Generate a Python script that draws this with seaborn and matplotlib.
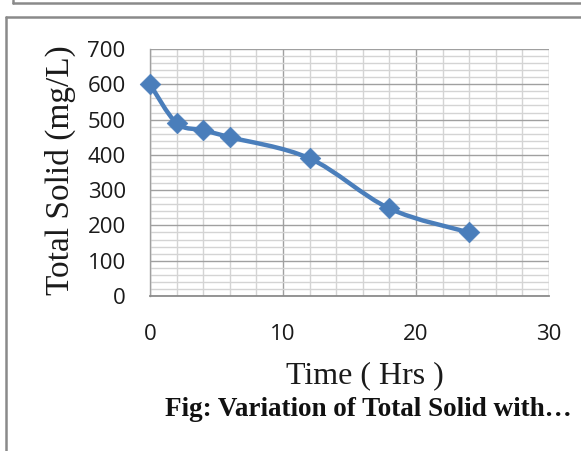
import numpy as np
import pandas as pd
import matplotlib
matplotlib.use("Agg")
import matplotlib.pyplot as plt
from matplotlib.path import Path
from matplotlib.patches import PathPatch
from matplotlib.lines import Line2D
from matplotlib.ticker import MultipleLocator
import seaborn as sns

# Sampling time (hours) and total solid concentration (mg/L)
time_hrs = [0, 2, 4, 6, 12, 18, 24]
total_solid = [600, 490, 470, 450, 390, 248, 180]

x_ticks = [0, 10, 20, 30]
y_ticks = [0, 100, 200, 300, 400, 500, 600, 700]

x_label = "Time ( Hrs )"
y_label = "Total Solid (mg/L)"
caption = "Fig: Variation of Total Solid with\u2026"

df = pd.DataFrame({"time": time_hrs, "ts": total_solid})

sns.set_theme(style="white")
plt.rcParams["font.family"] = ["Open Sans", "DejaVu Sans"]

W, H = 581, 451
fig = plt.figure(figsize=(W / 100, H / 100), dpi=100)
ax = fig.add_axes([150 / W, 1 - 296 / H, (549 - 150) / W, (296 - 49) / H])

blue = "#4A7EBB"

# smoothed connecting line (cubic Bezier through the points)
pts = np.column_stack([df["time"].to_numpy(float), df["ts"].to_numpy(float)])
n = len(pts)
verts = [tuple(pts[0])]
codes = [Path.MOVETO]
for i in range(n - 1):
    p0 = pts[i - 1] if i > 0 else pts[i]
    p1 = pts[i]
    p2 = pts[i + 1]
    p3 = pts[i + 2] if i + 2 < n else pts[i + 1]
    c1 = p1 + (p2 - p0) / 6.0
    c2 = p2 - (p3 - p1) / 6.0
    verts += [tuple(c1), tuple(c2), tuple(p2)]
    codes += [Path.CURVE4] * 3
ax.add_patch(PathPatch(Path(verts, codes), facecolor="none", edgecolor=blue,
                       lw=3.2, capstyle="round", joinstyle="round", zorder=3))

sns.scatterplot(data=df, x="time", y="ts", marker="D", s=110, color=blue,
                edgecolor=blue, linewidth=0.5, zorder=4, ax=ax, clip_on=False)

ax.set_xlim(0, 30)
ax.set_ylim(0, 700)
ax.xaxis.set_major_locator(MultipleLocator(10))
ax.xaxis.set_minor_locator(MultipleLocator(2))
ax.yaxis.set_major_locator(MultipleLocator(100))
ax.yaxis.set_minor_locator(MultipleLocator(20))
ax.set_xticks(x_ticks)
ax.set_yticks(y_ticks)
ax.set_xticklabels([str(v) for v in x_ticks])
ax.set_yticklabels([str(v) for v in y_ticks])

ax.grid(which="minor", color="#d4d4d4", lw=1.0)
ax.grid(which="major", color="#a0a0a0", lw=1.0)
ax.set_axisbelow(True)

for side in ["top", "right"]:
    ax.spines[side].set_visible(False)
ax.spines["left"].set_color("#a0a0a0")
ax.spines["left"].set_linewidth(1.0)
ax.spines["bottom"].set_color("#8c8c8c")
ax.spines["bottom"].set_linewidth(1.3)

ax.tick_params(axis="both", which="major", direction="out", length=6.5,
               width=1.0, color="#a0a0a0", labelsize=16, labelcolor="#1a1a1a")
ax.tick_params(axis="x", which="major", pad=14)
ax.tick_params(axis="y", which="major", pad=11)
ax.tick_params(which="minor", length=0)

serif = ["Liberation Serif", "DejaVu Serif"]
ax.set_xlabel(x_label, family=serif, fontsize=23, color="#1a1a1a", va="center")
ax.xaxis.set_label_coords((365 - 150) / 399, (296 - 376) / 247)
ax.set_ylabel(y_label, family=serif, fontsize=24, color="#1a1a1a", va="center")
ax.yaxis.set_label_coords((60 - 150) / 399, (296 - 170) / 247)

fig.text(368 / W, 1 - 409 / H, caption, family=serif, fontsize=19.5,
         fontweight="bold", ha="center", va="center", color="#111111")

# surrounding frames
frame = "#8a8a8a"
fig.add_artist(Line2D([13 / W, 1.0], [1 - 3 / H, 1 - 3 / H], color=frame, lw=1.8,
                      transform=fig.transFigure))
fig.add_artist(Line2D([13 / W, 13 / W], [1 - 3 / H, 1.0], color=frame, lw=1.8,
                      transform=fig.transFigure))
fig.add_artist(Line2D([6 / W, 1.0], [1 - 17 / H, 1 - 17 / H], color=frame, lw=1.8,
                      transform=fig.transFigure))
fig.add_artist(Line2D([6 / W, 6 / W], [0.0, 1 - 17 / H], color=frame, lw=1.8,
                      transform=fig.transFigure))

fig.savefig("out.png", dpi=100)
